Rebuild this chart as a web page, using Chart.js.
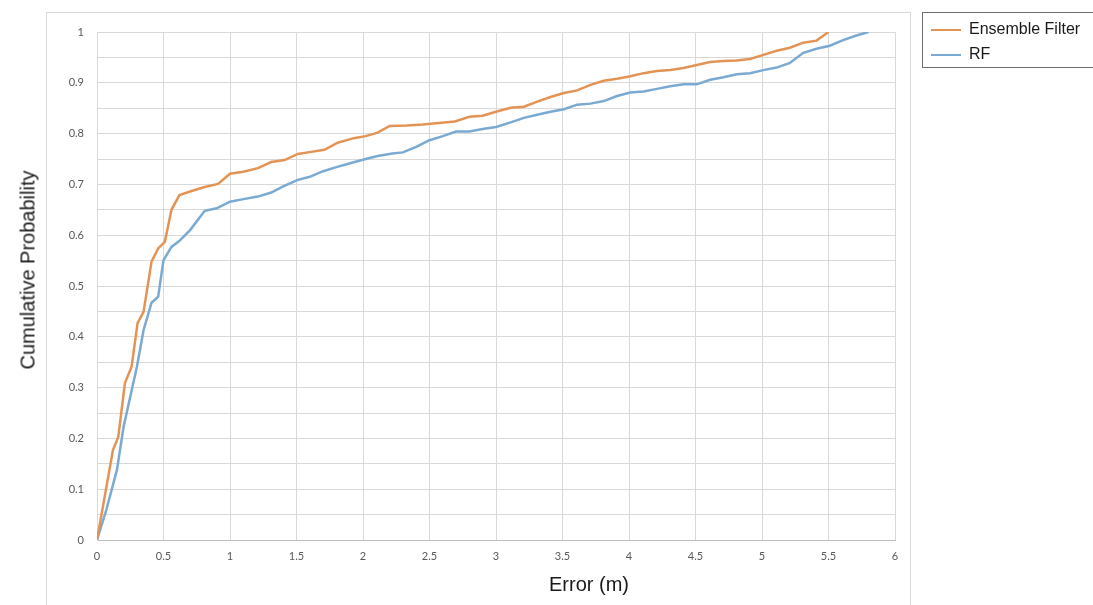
<!DOCTYPE html>
<html>
<head>
<meta charset="utf-8">
<script src="https://cdn.jsdelivr.net/npm/chart.js@4/dist/chart.umd.min.js"></script>
<style>
  body { margin: 0; background: #fff; }
  #wrap { position: relative; width: 1093px; height: 605px; overflow: hidden; }
  #frame { position: absolute; left: 46px; top: 12px; width: 863px; height: 600px; border: 1px solid #d9d9d9; }
  canvas { position: absolute; left: 0; top: 0; }
  .title { position: absolute; font-family: "Liberation Sans", Arial, sans-serif; font-size: 20px; color: #1a1a1a; white-space: nowrap; }
  #xTitle { left: 549px; top: 573px; }
  #yTitle { left: 28px; top: 270px; transform: translate(-50%, -50%) rotate(-90deg); }
  #legend { position: absolute; left: 922px; top: 12px; width: 180px; height: 54px; border: 1px solid #6e6e6e; font-family: "Liberation Sans", Arial, sans-serif; font-size: 16px; color: #1a1a1a; }
  .item { position: absolute; left: 8px; height: 20px; line-height: 20px; }
  .swatch { display: inline-block; width: 30px; height: 2px; vertical-align: middle; margin-right: 8px; }
</style>
</head>
<body>
<div id="wrap">
  <div id="frame"></div>
  <canvas id="chart" width="1093" height="605"></canvas>
  <div class="title" id="xTitle">Error (m)</div>
  <div class="title" id="yTitle">Cumulative Probability</div>
  <div id="legend"></div>
</div>
<script>
// Ensemble Filter (orange)
const ensembleX = [0, 0.12, 0.16, 0.21, 0.26, 0.305, 0.35, 0.41, 0.46, 0.51,
  0.56, 0.62, 0.70, 0.81, 0.91, 1.0, 1.10, 1.21, 1.31, 1.41,
  1.51, 1.61, 1.71, 1.81, 1.93, 2.02, 2.11, 2.20, 2.33, 2.45,
  2.57, 2.69, 2.80, 2.90, 3.0, 3.11, 3.21, 3.31, 3.41, 3.51,
  3.61, 3.71, 3.81, 3.91, 4.01, 4.11, 4.21, 4.31, 4.41, 4.51,
  4.61, 4.71, 4.81, 4.91, 5.01, 5.11, 5.21, 5.31, 5.41, 5.50];
const ensembleY = [0, 0.177, 0.203, 0.309, 0.341, 0.427, 0.449, 0.548, 0.574, 0.587,
  0.65, 0.679, 0.686, 0.695, 0.701, 0.721, 0.725, 0.732, 0.744, 0.748,
  0.760, 0.764, 0.768, 0.782, 0.791, 0.795, 0.802, 0.815, 0.816, 0.818,
  0.821, 0.824, 0.833, 0.835, 0.843, 0.851, 0.853, 0.863, 0.872, 0.880,
  0.885, 0.896, 0.904, 0.908, 0.913, 0.919, 0.923, 0.925, 0.929, 0.935,
  0.941, 0.943, 0.944, 0.947, 0.955, 0.963, 0.969, 0.979, 0.983, 1.0];

// RF (blue)
const rfX = [0, 0.07, 0.15, 0.20, 0.25, 0.30, 0.35, 0.41, 0.46, 0.50,
  0.56, 0.62, 0.70, 0.81, 0.90, 1.0, 1.10, 1.21, 1.31, 1.40,
  1.51, 1.60, 1.70, 1.80, 1.91, 2.02, 2.11, 2.22, 2.30, 2.40,
  2.50, 2.60, 2.70, 2.80, 2.90, 3.0, 3.11, 3.21, 3.31, 3.41,
  3.51, 3.61, 3.71, 3.81, 3.91, 4.01, 4.11, 4.21, 4.31, 4.41,
  4.51, 4.61, 4.71, 4.81, 4.91, 5.01, 5.11, 5.21, 5.31, 5.41,
  5.51, 5.61, 5.71, 5.80];
const rfY = [0, 0.059, 0.138, 0.223, 0.282, 0.341, 0.413, 0.467, 0.479, 0.551,
  0.577, 0.589, 0.61, 0.648, 0.653, 0.666, 0.671, 0.676, 0.684, 0.696,
  0.709, 0.715, 0.726, 0.734, 0.742, 0.750, 0.756, 0.761, 0.763, 0.774,
  0.787, 0.795, 0.804, 0.804, 0.809, 0.813, 0.822, 0.831, 0.837, 0.843,
  0.848, 0.857, 0.859, 0.864, 0.874, 0.881, 0.883, 0.888, 0.893, 0.897,
  0.897, 0.906, 0.911, 0.917, 0.919, 0.925, 0.930, 0.939, 0.959, 0.967,
  0.973, 0.984, 0.993, 1.0];

const seriesNames = ['Ensemble Filter', 'RF'];
const seriesColors = ['#e39455', '#7aa9d2'];

const toPoints = (xs, ys) => xs.map((x, i) => ({ x: x, y: ys[i] }));

const datasets = [
  { label: seriesNames[0], data: toPoints(ensembleX, ensembleY), borderColor: seriesColors[0] },
  { label: seriesNames[1], data: toPoints(rfX, rfY), borderColor: seriesColors[1] }
].map(d => Object.assign(d, { showLine: true, borderWidth: 2.5, pointRadius: 0, tension: 0, fill: false }));

// legend drawn as html
const legend = document.getElementById('legend');
seriesNames.forEach((name, i) => {
  const item = document.createElement('div');
  item.className = 'item';
  item.style.top = (i === 0 ? 6 : 31) + 'px';
  item.innerHTML = '<span class="swatch" style="background:' + seriesColors[i] + '"></span>' + name;
  legend.appendChild(item);
});

const tickFont = { family: 'Lato, "Open Sans", sans-serif', size: 11 };

new Chart(document.getElementById('chart'), {
  type: 'scatter',
  data: { datasets: datasets },
  options: {
    responsive: false,
    animation: false,
    layout: { padding: { left: 46, top: 32, right: 198, bottom: 0 } },
    plugins: { legend: { display: false }, tooltip: { enabled: false } },
    scales: {
      x: {
        type: 'linear', min: 0, max: 6,
        afterFit: s => { s.height = 65; },
        ticks: { stepSize: 0.5, color: '#595959', font: tickFont, padding: 10, maxRotation: 0,
          callback: v => String(v) },
        grid: { color: '#d9d9d9', drawTicks: false },
        border: { color: '#bfbfbf' }
      },
      y: {
        type: 'linear', min: 0, max: 1,
        afterFit: s => { s.width = 51; },
        ticks: { stepSize: 0.05, color: '#595959', font: tickFont, padding: 13,
          callback: v => (Math.round(v * 100) % 10 === 0 ? String(Math.round(v * 10) / 10) : '') },
        grid: { color: '#d9d9d9', drawTicks: false },
        border: { color: '#d9d9d9' }
      }
    }
  }
});
</script>
</body>
</html>
